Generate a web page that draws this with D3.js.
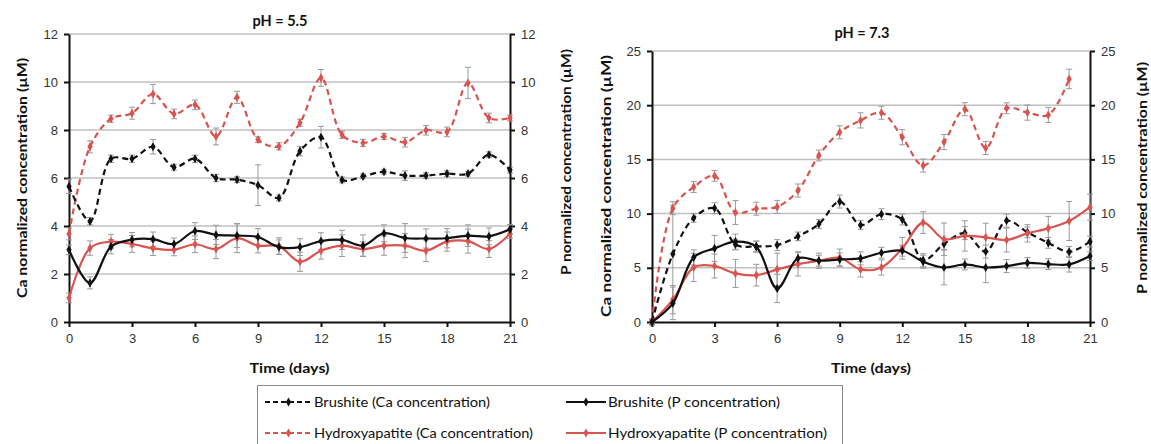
<!DOCTYPE html>
<html><head><meta charset="utf-8">
<script src="https://cdn.jsdelivr.net/npm/d3@7"></script>
<style>
html,body{margin:0;padding:0;background:#fff;}
svg{display:block;font-family:Lato,"Open Sans",sans-serif;}
</style></head>
<body>
<svg id="chart" width="1151" height="444"></svg>
<script>
const days = d3.range(0, 22);
const xTicks = [0, 3, 6, 9, 12, 15, 18, 21];
const yTicks55 = [0, 2, 4, 6, 8, 10, 12];
const yTicks73 = [0, 5, 10, 15, 20, 25];

// pH 5.5
const ca55Brushite = [5.65, 4.2, 6.8, 6.8, 7.3, 6.45, 6.8, 6.0, 5.93, 5.7, 5.17, 7.12, 7.7, 5.92, 6.07, 6.26, 6.1, 6.1, 6.18, 6.18, 6.97, 6.33];
const ca55BrushiteErr = [0.3, 0.15, 0.15, 0.15, 0.3, 0.12, 0.15, 0.15, 0.12, 0.85, 0.12, 0.2, 0.45, 0.12, 0.1, 0.1, 0.2, 0.12, 0.12, 0.1, 0.12, 0.12];
const ca55HA = [3.67, 7.3, 8.47, 8.7, 9.5, 8.67, 9.05, 7.73, 9.36, 7.6, 7.32, 8.3, 10.17, 7.8, 7.46, 7.73, 7.49, 7.99, 7.92, 9.96, 8.5, 8.5];
const ca55HAErr = [0.25, 0.25, 0.15, 0.25, 0.4, 0.2, 0.2, 0.35, 0.25, 0.12, 0.15, 0.15, 0.35, 0.15, 0.15, 0.12, 0.2, 0.2, 0.2, 0.65, 0.2, 0.12];
const p55Brushite = [3.01, 1.63, 3.14, 3.43, 3.45, 3.25, 3.79, 3.63, 3.6, 3.54, 3.12, 3.12, 3.37, 3.42, 3.18, 3.7, 3.5, 3.48, 3.49, 3.6, 3.57, 3.86];
const p55BrushiteErr = [0.2, 0.25, 0.3, 0.3, 0.3, 0.25, 0.35, 0.4, 0.5, 0.35, 0.3, 0.35, 0.35, 0.4, 0.45, 0.35, 0.6, 0.4, 0.4, 0.45, 0.35, 0.2];
const p55HA = [1.0, 3.08, 3.35, 3.25, 3.07, 3.01, 3.24, 3.04, 3.49, 3.18, 3.16, 2.51, 2.97, 3.18, 3.04, 3.18, 3.18, 2.97, 3.35, 3.37, 3.04, 3.68];
const p55HAErr = [0.2, 0.3, 0.3, 0.35, 0.3, 0.25, 0.35, 0.4, 0.6, 0.3, 0.35, 0.4, 0.35, 0.45, 0.3, 0.4, 0.5, 0.45, 0.4, 0.5, 0.35, 0.2];

// pH 7.3
const ca73Brushite = [0, 6.27, 9.6, 10.5, 7.15, 6.98, 7.1, 7.9, 9.04, 11.11, 8.95, 9.95, 9.45, 5.7, 7.2, 8.2, 6.5, 9.35, 8.27, 7.3, 6.47, 7.42];
const ca73BrushiteErr = [0.2, 4.5, 0.4, 0.5, 0.5, 0.5, 0.5, 0.4, 0.4, 0.6, 0.4, 0.5, 0.5, 0.6, 0.5, 0.6, 0.6, 0.6, 0.5, 0.5, 0.5, 0.5];
const ca73HA = [0, 10.5, 12.45, 13.48, 10.1, 10.45, 10.62, 12.13, 15.36, 17.5, 18.6, 19.3, 17.05, 14.43, 16.6, 19.63, 16.05, 19.72, 19.32, 19.1, 22.42, null];
const ca73HAErr = [0.3, 0.6, 0.5, 0.5, 1.1, 0.6, 0.6, 0.6, 0.5, 0.6, 0.7, 0.6, 0.7, 0.6, 0.7, 0.6, 0.6, 0.5, 0.7, 0.7, 0.9, 0];
const p73Brushite = [0, 1.72, 5.96, 6.79, 7.41, 6.94, 3.09, 5.87, 5.65, 5.77, 5.87, 6.39, 6.57, 5.56, 5.03, 5.31, 5.03, 5.16, 5.45, 5.34, 5.31, 6.08];
const p73BrushiteErr = [0.2, 1.5, 0.7, 1.2, 0.7, 0.5, 1.3, 0.6, 0.5, 0.6, 0.6, 0.5, 0.5, 0.6, 1.6, 0.5, 1.4, 0.6, 0.5, 0.5, 0.7, 0.4];
const p73HA = [0, 2.07, 5.03, 5.16, 4.48, 4.32, 4.85, 5.34, 5.65, 5.93, 4.85, 5.03, 6.8, 9.17, 7.63, 7.94, 7.81, 7.56, 8.18, 8.64, 9.32, 10.59];
const p73HAErr = [0.2, 1.3, 1.3, 1.1, 1.3, 1.0, 1.5, 1.1, 0.7, 0.8, 0.7, 0.7, 1.0, 1.0, 1.5, 1.4, 1.3, 1.1, 0.8, 1.1, 1.8, 1.2];

const legendLabels = ["Brushite (Ca concentration)", "Brushite (P concentration)", "Hydroxyapatite (Ca concentration)", "Hydroxyapatite (P concentration)"];

const BLACK = "#111", RED = "#d9534f", GRID = "#c0c0c0", TXT = "#333";
const svg = d3.select("#chart");

function vTitle(x, y, len, txt) {
  svg.append("text").attr("transform", `translate(${x},${y}) rotate(-90)`)
    .attr("text-anchor", "middle").attr("font-weight", "bold").attr("font-size", 14).attr("fill", "#111")
    .attr("textLength", len).attr("lengthAdjust", "spacingAndGlyphs").text(txt);
}

function panel(cfg) {
  const x = d3.scaleLinear().domain([0, 21]).range([cfg.x0, cfg.x1]);
  const y = d3.scaleLinear().domain([0, cfg.ymax]).range([cfg.yb, cfg.yt]);
  const g = svg.append("g");
  g.append("g").selectAll("line").data(cfg.yTicks.filter(d => d > 0)).join("line")
    .attr("x1", cfg.x0).attr("x2", cfg.x1).attr("y1", d => y(d)).attr("y2", d => y(d))
    .attr("stroke", GRID).attr("stroke-width", 1.5);
  const styleAxis = sel => {
    sel.select(".domain").attr("stroke", BLACK).attr("stroke-width", 2);
    sel.selectAll(".tick line").attr("stroke", BLACK).attr("stroke-width", 2);
    sel.selectAll(".tick text").attr("fill", TXT).attr("font-size", 13);
  };
  g.append("g").attr("transform", `translate(${cfg.x0},0)`)
    .call(d3.axisLeft(y).tickValues(cfg.yTicks).tickSize(5).tickSizeOuter(0).tickPadding(6)).call(styleAxis);
  g.append("g").attr("transform", `translate(${cfg.x1},0)`)
    .call(d3.axisRight(y).tickValues(cfg.yTicks).tickSize(5).tickSizeOuter(0).tickPadding(6)).call(styleAxis);
  g.append("g").attr("transform", `translate(0,${cfg.yb})`)
    .call(d3.axisBottom(x).tickValues(xTicks).tickSize(5).tickSizeOuter(0).tickPadding(7)).call(styleAxis);

  const series = cfg.series;
  series.forEach(s => {
    const pts = days.map((d, i) => ({d, v: s.v[i], e: s.e[i]})).filter(p => p.v != null && p.e > 0);
    const eg = g.append("g").attr("stroke", "#9a9a9a").attr("stroke-width", 1);
    eg.selectAll("line.v").data(pts).join("line").attr("class", "v")
      .attr("x1", p => x(p.d)).attr("x2", p => x(p.d))
      .attr("y1", p => y(p.v - p.e)).attr("y2", p => y(p.v + p.e));
    eg.selectAll("line.t").data(pts).join("line").attr("class", "t")
      .attr("x1", p => x(p.d) - 3).attr("x2", p => x(p.d) + 3)
      .attr("y1", p => y(p.v + p.e)).attr("y2", p => y(p.v + p.e));
    eg.selectAll("line.b").data(pts).join("line").attr("class", "b")
      .attr("x1", p => x(p.d) - 3).attr("x2", p => x(p.d) + 3)
      .attr("y1", p => y(p.v - p.e)).attr("y2", p => y(p.v - p.e));
  });
  series.forEach(s => {
    const pts = days.map((d, i) => ({d, v: s.v[i]})).filter(p => p.v != null);
    const line = d3.line().x(p => x(p.d)).y(p => y(p.v)).curve(d3.curveCatmullRom.alpha(0.5));
    g.append("path").datum(pts).attr("d", line).attr("fill", "none")
      .attr("stroke", s.color).attr("stroke-width", 2.2)
      .attr("stroke-dasharray", s.dash ? "6,4" : null);
    g.append("g").selectAll("path").data(pts).join("path")
      .attr("transform", p => `translate(${x(p.d)},${y(p.v)})`)
      .attr("d", d3.symbol(d3.symbolDiamond, 24)).attr("fill", s.color);
  });
  svg.append("text").attr("x", cfg.titleX).attr("y", cfg.titleY).attr("text-anchor", "middle")
    .attr("font-weight", "bold").attr("font-size", 14.5).attr("fill", "#111").text(cfg.title);
  svg.append("text").attr("x", (cfg.x0 + cfg.x1) / 2).attr("y", 373).attr("text-anchor", "middle")
    .attr("font-weight", "bold").attr("font-size", 14).attr("fill", "#111")
    .attr("textLength", 80).attr("lengthAdjust", "spacingAndGlyphs").text("Time (days)");
  vTitle(cfg.lTitleX, cfg.lTitleY, cfg.lTitleLen, "Ca normalized concentration (µM)");
  vTitle(cfg.rTitleX, cfg.rTitleY, cfg.rTitleLen, "P normalized concentration (µM)");
}

panel({
  x0: 69, x1: 510, yt: 34, yb: 322, ymax: 12, yTicks: yTicks55,
  title: "pH = 5.5", titleX: 280, titleY: 26,
  lTitleX: 27, lTitleY: 178, lTitleLen: 240,
  rTitleX: 571, rTitleY: 162, rTitleLen: 226,
  series: [
    {v: ca55HA, e: ca55HAErr, color: RED, dash: true},
    {v: ca55Brushite, e: ca55BrushiteErr, color: BLACK, dash: true},
    {v: p55HA, e: p55HAErr, color: RED, dash: false},
    {v: p55Brushite, e: p55BrushiteErr, color: BLACK, dash: false}
  ]
});
panel({
  x0: 652, x1: 1090, yt: 51, yb: 322, ymax: 25, yTicks: yTicks73,
  title: "pH = 7.3", titleX: 862, titleY: 38,
  lTitleX: 611, lTitleY: 186, lTitleLen: 262,
  rTitleX: 1147, rTitleY: 178, rTitleLen: 232,
  series: [
    {v: ca73HA, e: ca73HAErr, color: RED, dash: true},
    {v: ca73Brushite, e: ca73BrushiteErr, color: BLACK, dash: true},
    {v: p73HA, e: p73HAErr, color: RED, dash: false},
    {v: p73Brushite, e: p73BrushiteErr, color: BLACK, dash: false}
  ]
});

// legend
const lg = svg.append("g");
lg.append("rect").attr("x", 257.5).attr("y", 385.5).attr("width", 585).attr("height", 70)
  .attr("fill", "#fff").attr("stroke", "#8a8a8a").attr("stroke-width", 1);
const items = [
  {label: legendLabels[0], color: BLACK, dash: true, col: 0, row: 0, len: 176},
  {label: legendLabels[1], color: BLACK, dash: false, col: 1, row: 0, len: 172},
  {label: legendLabels[2], color: RED, dash: true, col: 0, row: 1, len: 219},
  {label: legendLabels[3], color: RED, dash: false, col: 1, row: 1, len: 219}
];
const colX = [265, 566], rowY = [402, 433];
items.forEach(it => {
  const x0 = colX[it.col], yy = rowY[it.row];
  const w = it.dash ? 47 : 40;
  lg.append("line").attr("x1", x0).attr("x2", x0 + w).attr("y1", yy).attr("y2", yy)
    .attr("stroke", it.color).attr("stroke-width", 2.2).attr("stroke-dasharray", it.dash ? "5,3" : null);
  lg.append("path").attr("transform", `translate(${x0 + w / 2},${yy})`)
    .attr("d", d3.symbol(d3.symbolDiamond, 24)).attr("fill", it.color);
  lg.append("text").attr("x", x0 + w + 2).attr("y", yy).attr("dy", "0.35em")
    .attr("font-size", 13.5).attr("fill", "#111")
    .attr("textLength", it.len).attr("lengthAdjust", "spacingAndGlyphs").text(it.label);
});
</script>
</body></html>
